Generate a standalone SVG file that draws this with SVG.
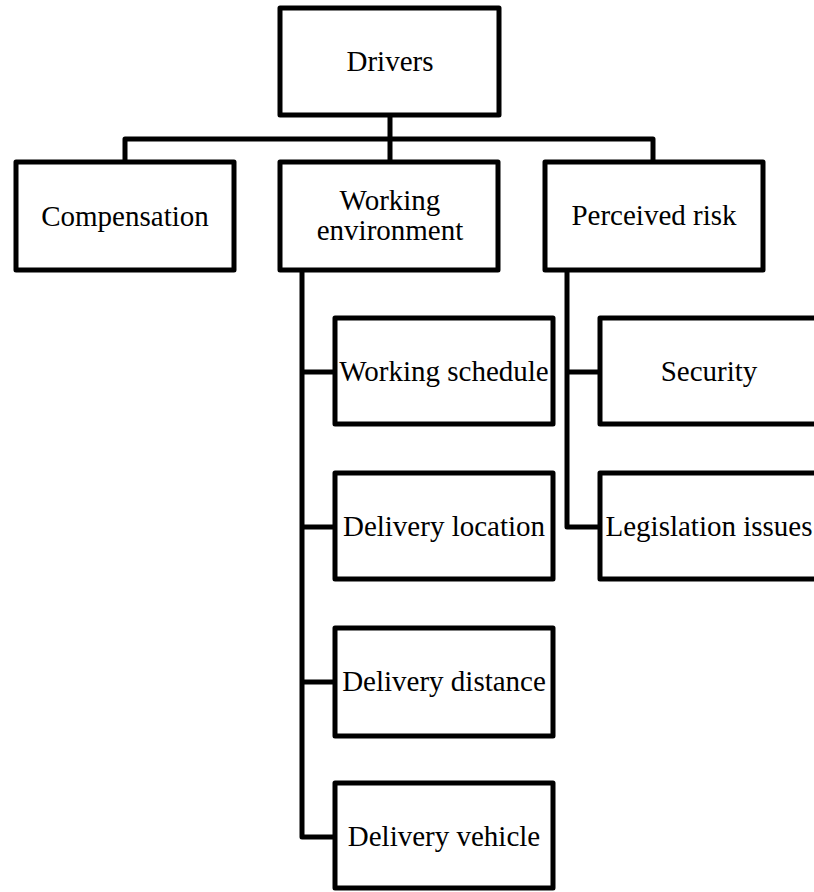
<svg xmlns="http://www.w3.org/2000/svg" width="814" height="892" viewBox="0 0 814 892">
<style>
.box{fill:#fff;stroke:#000;stroke-width:5;stroke-linejoin:round}
.lbl{font-family:"Liberation Serif","Times New Roman",serif;font-size:29px;fill:#000;text-anchor:middle}
.con{fill:none;stroke:#000;stroke-width:5;stroke-linejoin:round}
</style>
<rect width="814" height="892" fill="#fff"/>
<g id="connectors">
<path class="con" d="M390 115V162M125 162V139H653V162"/>
<path class="con" d="M302 270V837H335M302 372H335M302 527H335M302 682H335"/>
<path class="con" d="M567 270V527H600M567 372H600"/>
</g>
<g id="drivers"><rect class="box" x="280" y="8" width="219" height="107"/><text class="lbl" x="390" y="71">Drivers</text></g>
<g id="compensation"><rect class="box" x="16" y="162" width="218" height="108"/><text class="lbl" x="125" y="226">Compensation</text></g>
<g id="working-environment"><rect class="box" x="280" y="162" width="218" height="108"/><text class="lbl" x="390" y="210">Working</text><text class="lbl" x="390" y="240">environment</text></g>
<g id="perceived-risk"><rect class="box" x="545" y="162" width="218" height="108"/><text class="lbl" x="654" y="225">Perceived risk</text></g>
<g id="working-schedule"><rect class="box" x="335" y="318" width="218" height="106"/><text class="lbl" x="444" y="381">Working schedule</text></g>
<g id="delivery-location"><rect class="box" x="335" y="473" width="218" height="106"/><text class="lbl" x="444" y="536">Delivery location</text></g>
<g id="delivery-distance"><rect class="box" x="335" y="628" width="218" height="108"/><text class="lbl" x="444" y="691">Delivery distance</text></g>
<g id="delivery-vehicle"><rect class="box" x="335" y="783" width="218" height="105"/><text class="lbl" x="444" y="846">Delivery vehicle</text></g>
<g id="security"><rect class="box" x="600" y="318" width="218" height="106"/><text class="lbl" x="709" y="381">Security</text></g>
<g id="legislation-issues"><rect class="box" x="600" y="473" width="218" height="106"/><text class="lbl" x="709" y="536">Legislation issues</text></g>
</svg>
